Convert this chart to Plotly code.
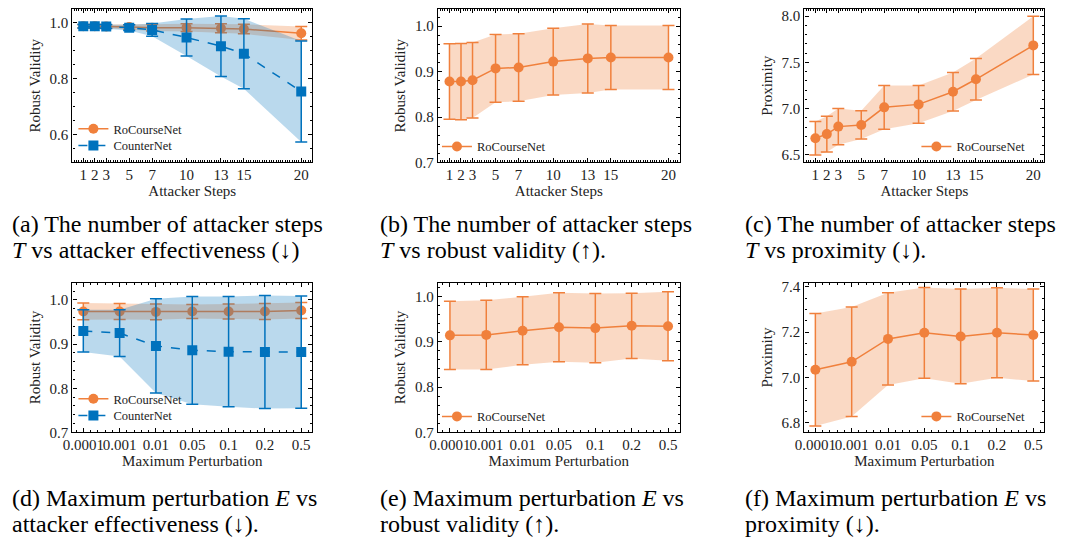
import plotly.graph_objects as go

# ---------------- data ----------------
steps = [1, 2, 3, 5, 7, 10, 13, 15, 20]
perturb_labels = ["0.0001", "0.001", "0.01", "0.05", "0.1", "0.2", "0.5"]

# (a) attacker steps vs robust validity (attacker effectiveness)
a_ro_mean = [0.986, 0.986, 0.985, 0.983, 0.981, 0.981, 0.979, 0.976, 0.961]
a_ro_std = [0.006, 0.006, 0.006, 0.008, 0.012, 0.014, 0.016, 0.017, 0.024]
a_cn_mean = [0.986, 0.986, 0.985, 0.981, 0.973, 0.946, 0.915, 0.888, 0.753]
a_cn_std = [0.006, 0.006, 0.007, 0.010, 0.023, 0.066, 0.108, 0.125, 0.180]

# (b) attacker steps vs robust validity
b_mean = [0.878, 0.878, 0.881, 0.907, 0.909, 0.922, 0.929, 0.931, 0.931]
b_std = [0.083, 0.084, 0.083, 0.0745, 0.0745, 0.0735, 0.076, 0.0705, 0.0705]

# (c) attacker steps vs proximity
c_mean = [6.680, 6.725, 6.806, 6.824, 7.014, 7.046, 7.183, 7.317, 7.683]
c_std = [0.180, 0.194, 0.196, 0.153, 0.236, 0.204, 0.208, 0.224, 0.315]

# (d) max perturbation vs robust validity (attacker effectiveness)
d_ro_mean = [0.974, 0.974, 0.973, 0.974, 0.974, 0.974, 0.976]
d_ro_std = [0.019, 0.018, 0.018, 0.016, 0.017, 0.018, 0.018]
d_cn_mean = [0.930, 0.925, 0.896, 0.886, 0.883, 0.882, 0.882]
d_cn_std = [0.048, 0.053, 0.107, 0.122, 0.125, 0.128, 0.127]

# (e) max perturbation vs robust validity
e_mean = [0.914, 0.915, 0.924, 0.932, 0.930, 0.935, 0.934]
e_std = [0.075, 0.0765, 0.075, 0.076, 0.0765, 0.072, 0.076]

# (f) max perturbation vs proximity
f_mean = [7.034, 7.069, 7.170, 7.197, 7.181, 7.197, 7.187]
f_std = [0.2485, 0.242, 0.204, 0.2005, 0.209, 0.199, 0.203]

captions = [
    ("(a) The number of attacker steps", "<i>T</i> vs attacker effectiveness (↓)"),
    ("(b) The number of attacker steps", "<i>T</i> vs robust validity (↑)."),
    ("(c) The number of attacker steps", "<i>T</i> vs proximity (↓)."),
    ("(d) Maximum perturbation <i>E</i> vs", "attacker effectiveness (↓)."),
    ("(e) Maximum perturbation <i>E</i> vs", "robust validity (↑)."),
    ("(f) Maximum perturbation <i>E</i> vs", "proximity (↓)."),
]

# ---------------- style ----------------
ORANGE = "#F0803C"
BLUE = "#0072BD"
ORANGE_FILL = "rgba(240,128,60,0.30)"
BLUE_FILL = "rgba(0,114,189,0.27)"
FONT = "Liberation Serif"
W, H = 1065, 548


def px_x(x):
    return max(0.0, min(1.0, x / W))


def px_y(y):
    return max(0.0, min(1.0, 1 - y / H))


fig = go.Figure()
perturb_idx = list(range(len(perturb_labels)))


def add_series(n, x, mean, std, name, color, fill, symbol, dash, legend):
    xa = "x" if n == 1 else f"x{n}"
    ya = "y" if n == 1 else f"y{n}"
    upper = [m + s for m, s in zip(mean, std)]
    lower = [m - s for m, s in zip(mean, std)]
    fig.add_trace(go.Scatter(
        x=list(x) + list(x)[::-1], y=upper + lower[::-1],
        fill="toself", fillcolor=fill, line=dict(width=0),
        mode="lines", hoverinfo="skip", showlegend=False,
        xaxis=xa, yaxis=ya))
    fig.add_trace(go.Scatter(
        x=list(x), y=mean, name=name, mode="lines+markers",
        line=dict(color=color, width=1.5, dash=dash),
        marker=dict(color=color, size=10, symbol=symbol),
        error_y=dict(type="data", array=std, color=color, thickness=1.5, width=6),
        xaxis=xa, yaxis=ya, legend=legend))


add_series(1, steps, a_ro_mean, a_ro_std, "RoCourseNet", ORANGE, ORANGE_FILL, "circle", "solid", "legend")
add_series(1, steps, a_cn_mean, a_cn_std, "CounterNet", BLUE, BLUE_FILL, "square", "dash", "legend7")
add_series(2, steps, b_mean, b_std, "RoCourseNet", ORANGE, ORANGE_FILL, "circle", "solid", "legend2")
add_series(3, steps, c_mean, c_std, "RoCourseNet", ORANGE, ORANGE_FILL, "circle", "solid", "legend3")
add_series(4, perturb_idx, d_ro_mean, d_ro_std, "RoCourseNet", ORANGE, ORANGE_FILL, "circle", "solid", "legend4")
add_series(4, perturb_idx, d_cn_mean, d_cn_std, "CounterNet", BLUE, BLUE_FILL, "square", "dash", "legend8")
add_series(5, perturb_idx, e_mean, e_std, "RoCourseNet", ORANGE, ORANGE_FILL, "circle", "solid", "legend5")
add_series(6, perturb_idx, f_mean, f_std, "RoCourseNet", ORANGE, ORANGE_FILL, "circle", "solid", "legend6")

# ---------------- axes (window pixel boxes) ----------------
col_px = [(63, 305), (432, 676), (802, 1044)]
row_px = [(5, 162), (285, 438)]


def minor(dt):
    return dict(ticks="inside", ticklen=2, tickwidth=0.8, tickcolor="black", dtick=dt, tick0=0)


def base_axis(standoff):
    return dict(
        showline=True, linecolor="black", linewidth=1.2, mirror="allticks",
        ticks="inside", ticklen=4, tickwidth=1, tickcolor="black",
        showgrid=False, zeroline=False, tickangle=0,
        tickfont=dict(family=FONT, size=15, color="#222"),
        title=dict(font=dict(family=FONT, size=15, color="#222"), standoff=standoff),
    )


panels = [
    (1, 0, 0, [0.05, 20.95], "Attacker Steps", [0.5, 1.048], "Robust Validity", [0.6, 0.8, 1.0], 0.05, "steps"),
    (2, 0, 1, [0.0, 20.97], "Attacker Steps", [0.7, 1.038], "Robust Validity", [0.7, 0.8, 0.9, 1.0], 0.02, "steps"),
    (3, 0, 2, [0.05, 20.95], "Attacker Steps", [6.419, 8.077], "Proximity", [6.5, 7.0, 7.5, 8.0], 0.1, "steps"),
    (4, 1, 0, [-0.3, 6.3], "Maximum Perturbation", [0.7, 1.039], "Robust Validity", [0.7, 0.8, 0.9, 1.0], 0.02, "pert"),
    (5, 1, 1, [-0.33, 6.32], "Maximum Perturbation", [0.7, 1.03], "Robust Validity", [0.7, 0.8, 0.9, 1.0], 0.02, "pert"),
    (6, 1, 2, [-0.3, 6.3], "Maximum Perturbation", [6.757, 7.418], "Proximity", [6.8, 7.0, 7.2, 7.4], 0.05, "pert"),
]

for n, r, c, xr, xt, yr, yt, ytv, ymin, kind in panels:
    xa = base_axis(1)
    ya = base_axis(5)
    xa.update(domain=[px_x(col_px[c][0]), px_x(col_px[c][1])], range=xr,
              anchor=("y" if n == 1 else f"y{n}"), ticklabelstandoff=-2)
    xa["title"]["text"] = xt
    if kind == "steps":
        xa.update(tickvals=steps, ticktext=[str(s) for s in steps], minor=minor(0.2))
    else:
        xa.update(tickvals=perturb_idx, ticktext=perturb_labels, minor=minor(0.2))
    ya.update(domain=[px_y(row_px[r][1]), px_y(row_px[r][0])], range=yr,
              anchor=("x" if n == 1 else f"x{n}"),
              tickvals=ytv, ticktext=[f"{v:.1f}" for v in ytv], minor=minor(ymin))
    ya["title"]["text"] = yt
    key = "" if n == 1 else str(n)
    fig.layout["xaxis" + key] = xa
    fig.layout["yaxis" + key] = ya

# ---------------- legends (one entry each, centred on its row) ----------------
leg_font = dict(family=FONT, size=12.5, color="#222")
leg_common = dict(bgcolor="rgba(0,0,0,0)", font=leg_font, xanchor="left",
                  yanchor="middle", itemwidth=30)
legend_pos = {
    "legend": (64, 128),
    "legend7": (64, 145),
    "legend2": (431, 146),
    "legend3": (915, 146),
    "legend4": (64, 404),
    "legend8": (64, 421),
    "legend5": (431, 422),
    "legend6": (915, 422),
}
for k, (px, py) in legend_pos.items():
    d = dict(leg_common)
    d.update(x=px_x(px), y=px_y(py))
    fig.layout[k] = d

# ---------------- captions ----------------
cap_x = [0, 371, 740]
cap_y = [(225, 252), (505, 532)]
for i, (l1, l2) in enumerate(captions):
    r, c = divmod(i, 3)
    for txt, py in zip((l1, l2), cap_y[r]):
        fig.add_annotation(text=txt, xref="paper", yref="paper",
                           x=px_x(cap_x[c]), y=px_y(py), xanchor="left", yanchor="middle",
                           showarrow=False, font=dict(family=FONT, size=24, color="black"))

fig.update_layout(width=W, height=H, margin=dict(l=0, r=0, t=0, b=0),
                  paper_bgcolor="white", plot_bgcolor="white", showlegend=True)

# remove the default page margin so the 1065x548 figure fills the window
post = (
    "document.documentElement.style.margin='0';"
    "document.body.style.margin='0';document.body.style.padding='0';"
    "document.body.style.overflow='hidden';"
    "var gd=document.getElementsByClassName('plotly-graph-div')[0];"
    "gd.style.position='absolute';gd.style.left='0px';gd.style.top='0px';"
)
fig.write_html("out.html", post_script=post, config={"displayModeBar": False})
